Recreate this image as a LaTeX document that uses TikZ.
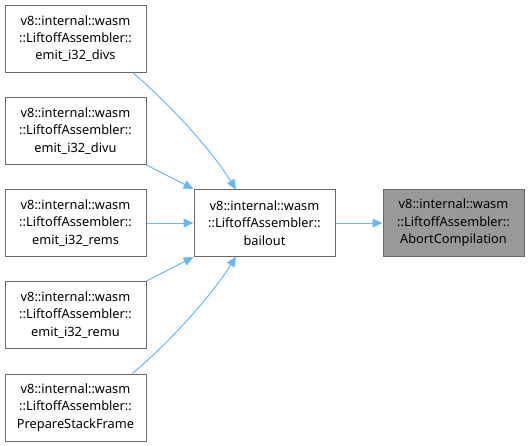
\documentclass[tikz,border=0pt]{standalone}
\usepackage{fontspec}
\setmainfont{Noto Sans}
\usetikzlibrary{arrows.meta}
\definecolor{edgeblue}{HTML}{63B8FF}
\definecolor{boxgray}{HTML}{999999}
\definecolor{bordergray}{HTML}{666666}
\tikzset{
  fn/.style={draw=bordergray, line width=0.75pt, fill=white, minimum width=141*0.75pt, minimum height=67*0.75pt,
    inner sep=0pt, align=center, font=\fontsize{9.6pt}{13pt}\selectfont},
  cur/.style={fn, fill=boxgray},
  link/.style={draw=edgeblue, line width=0.75pt, -{Triangle[length=7.5pt,width=6.5pt]}}
}
\begin{document}
\begin{tikzpicture}[x=0.75pt,y=-0.75pt]
\useasboundingbox (0,0) rectangle (529,446);
\node[fn] (a) at (75.5,38.5) {v8::internal::wasm\\::LiftoffAssembler::\\emit\_i32\_divs};
\node[fn] (b) at (75.5,131) {v8::internal::wasm\\::LiftoffAssembler::\\emit\_i32\_divu};
\node[fn] (c) at (75.5,223) {v8::internal::wasm\\::LiftoffAssembler::\\emit\_i32\_rems};
\node[fn] (d) at (75.5,315) {v8::internal::wasm\\::LiftoffAssembler::\\emit\_i32\_remu};
\node[fn] (e) at (75.5,407.5) {v8::internal::wasm\\::LiftoffAssembler::\\PrepareStackFrame};
\node[fn] (m) at (264.5,223) {v8::internal::wasm\\::LiftoffAssembler::\\bailout};
\node[cur] (r) at (453.5,223) {v8::internal::wasm\\::LiftoffAssembler::\\AbortCompilation};
\coordinate (mt) at (236,189.5);
\coordinate (mb) at (236,256.5);
\draw[link] (a.south east) ++(-14,0) .. controls (165,100) and (208,145) .. (mt);
\draw[link] (b.south east) -- (m.north west);
\draw[link] (c.east) -- (m.west);
\draw[link] (d.north east) -- (m.south west);
\draw[link] (e.north east) ++(-14,0) .. controls (165,346) and (208,301) .. (mb);
\draw[link] (m) -- (r);
\end{tikzpicture}
\end{document}
